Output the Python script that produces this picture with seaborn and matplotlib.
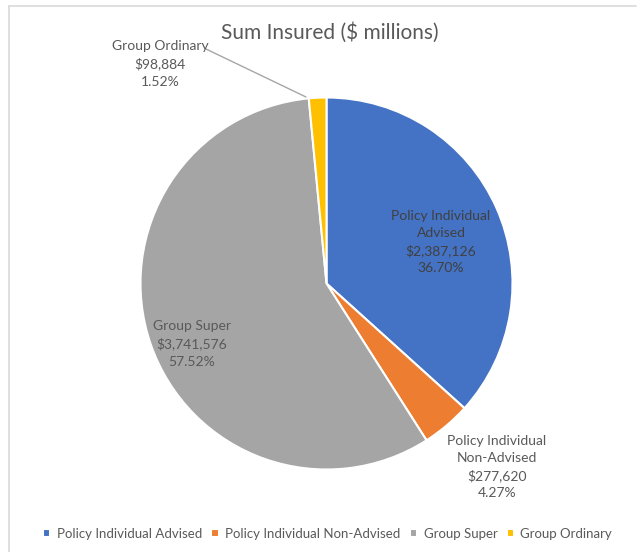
import matplotlib
matplotlib.use("Agg")
import matplotlib.pyplot as plt
import seaborn as sns
from matplotlib.lines import Line2D

categories = ["Policy Individual Advised", "Policy Individual Non-Advised",
              "Group Super", "Group Ordinary"]
values = [2387126, 277620, 3741576, 98884]
label_names = ["Policy Individual\nAdvised", "Policy Individual\nNon-Advised",
               "Group Super", "Group Ordinary"]

sns.set_theme(style="white")
plt.rcParams['font.family'] = ['Lato', 'DejaVu Sans']

colors = sns.color_palette(["#4472C4", "#ED7D31", "#A5A5A5", "#FFC000"])

W, H = 640, 552
fig = plt.figure(figsize=(6.4, 5.52), dpi=100)
fig.patch.set_facecolor("white")
ax = fig.add_axes([0, 0, 1, 1])

cx, cy, r = 326.5, H - 283.5, 186
wedges, _ = ax.pie(values, colors=colors, startangle=90, counterclock=False,
                   center=(cx, cy), radius=r, frame=True,
                   wedgeprops=dict(edgecolor="white", linewidth=1.5))
ax.set_xlim(0, W)
ax.set_ylim(0, H)
ax.axis("off")

total = sum(values)
# label centres, in pixels from top-left
label_pos = [(441, 242), (497, 467), (192, 344), (160, 64)]
label_col = ["#404040", "#595959", "#595959", "#595959"]
for name, v, (px, py), c in zip(label_names, values, label_pos, label_col):
    txt = "{}\n${:,}\n{:.2f}%".format(name, v, 100 * v / total)
    ax.text(px, H - py, txt, ha="center", va="center", fontsize=10,
            color=c, linespacing=1.5)

# leader line for Group Ordinary
ax.add_line(Line2D([206, 306], [H - 49, H - 97], color="#A6A6A6", lw=1))

fig.text(0.515, 1 - 33 / H, "Sum Insured ($ millions)", ha="center", va="center",
         fontsize=15, color="#595959")

fig.legend(wedges, categories, loc="center", bbox_to_anchor=(0.512, 1 - 534 / H),
           ncol=4, frameon=False, fontsize=9.5, handlelength=0.55, handleheight=0.55,
           handletextpad=0.5, columnspacing=0.7, labelcolor="#595959")

# chart border
fig.add_artist(Line2D([9 / W, 636 / W], [1 - 6 / H, 1 - 6 / H], color="#D9D9D9", lw=1.2,
                      transform=fig.transFigure))
fig.add_artist(Line2D([9 / W, 9 / W], [1 - 6 / H, 0], color="#D9D9D9", lw=1.2,
                      transform=fig.transFigure))

fig.savefig("out.png", dpi=100, facecolor="white")
